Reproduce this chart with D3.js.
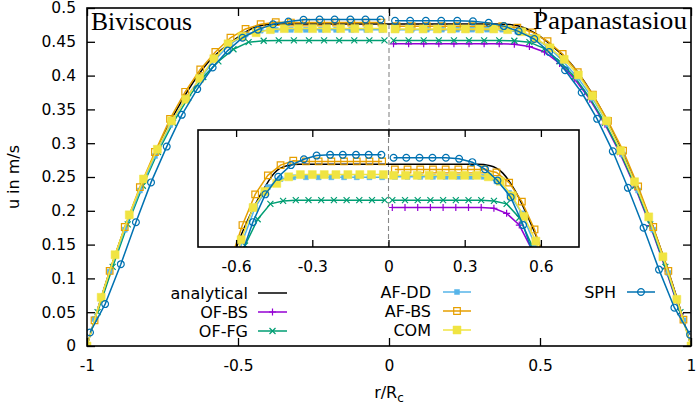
<!DOCTYPE html>
<html>
<head>
<meta charset="utf-8">
<script src="https://cdn.jsdelivr.net/npm/d3@7"></script>
<style>
  body { margin: 0; background: #fff; }
</style>
</head>
<body>
<div id="chart"></div>
<script>
// ---- data: [r/Rc, u in m/s] ----
const analytical = [
  [-1.0, 0], [-0.95, 0.076], [-0.9, 0.143], [-0.85, 0.204], [-0.8, 0.258], [-0.75, 0.308],
  [-0.7, 0.352], [-0.65, 0.389], [-0.6, 0.419], [-0.55, 0.44], [-0.5, 0.457], [-0.45, 0.4705],
  [-0.4, 0.4755], [-0.35, 0.4765], [0.35, 0.4765], [0.4, 0.4755], [0.45, 0.4705], [0.5, 0.458],
  [0.55, 0.44], [0.6, 0.419], [0.65, 0.389], [0.7, 0.352], [0.75, 0.308], [0.8, 0.258],
  [0.85, 0.204], [0.9, 0.143], [0.95, 0.076], [1.0, 0]
];

const ofbsRight = [
  [0.015, 0.447], [0.065, 0.447], [0.115, 0.447], [0.165, 0.447], [0.215, 0.447],
  [0.265, 0.447], [0.315, 0.447], [0.365, 0.447], [0.415, 0.4465], [0.465, 0.443],
  [0.515, 0.435], [0.565, 0.418], [0.615, 0.395], [0.665, 0.365], [0.715, 0.328],
  [0.765, 0.285], [0.815, 0.235], [0.865, 0.178], [0.915, 0.115], [0.965, 0.048]
];

const offgLeft = [
  [-0.965, 0.05], [-0.915, 0.117], [-0.865, 0.18], [-0.815, 0.237], [-0.765, 0.287],
  [-0.715, 0.33], [-0.665, 0.367], [-0.615, 0.398], [-0.565, 0.421], [-0.515, 0.439],
  [-0.465, 0.4495], [-0.415, 0.4515], [-0.365, 0.452], [-0.315, 0.452], [-0.265, 0.452],
  [-0.215, 0.452], [-0.165, 0.452], [-0.115, 0.452], [-0.065, 0.452], [-0.015, 0.452]
];
const offgRight = [
  [0.015, 0.452], [0.065, 0.452], [0.115, 0.452], [0.165, 0.452], [0.215, 0.452],
  [0.265, 0.452], [0.315, 0.452], [0.365, 0.452], [0.415, 0.4515], [0.465, 0.4495],
  [0.515, 0.44], [0.565, 0.421], [0.615, 0.398], [0.665, 0.367], [0.715, 0.33],
  [0.765, 0.287], [0.815, 0.237], [0.865, 0.18], [0.915, 0.117], [0.965, 0.05]
];

const afddLeft = [
  [-0.975, 0.04], [-0.925, 0.11], [-0.875, 0.172], [-0.825, 0.23], [-0.775, 0.281],
  [-0.725, 0.327], [-0.675, 0.365], [-0.625, 0.396], [-0.575, 0.424], [-0.525, 0.447],
  [-0.475, 0.461], [-0.425, 0.4665], [-0.375, 0.4677], [-0.325, 0.4677], [-0.275, 0.4677],
  [-0.225, 0.4677], [-0.175, 0.4677], [-0.125, 0.4677], [-0.075, 0.4677], [-0.025, 0.4677]
];
const afddRight = [
  [0.025, 0.468], [0.075, 0.468], [0.125, 0.468], [0.175, 0.468], [0.225, 0.468],
  [0.275, 0.468], [0.325, 0.468], [0.375, 0.468], [0.425, 0.465], [0.475, 0.457],
  [0.525, 0.443], [0.575, 0.422], [0.625, 0.397], [0.675, 0.366], [0.725, 0.328],
  [0.775, 0.283], [0.825, 0.23], [0.875, 0.172], [0.925, 0.108], [0.975, 0.038]
];

const afbsLeft = [
  [-0.975, 0.038], [-0.925, 0.111], [-0.875, 0.176], [-0.825, 0.235], [-0.775, 0.287],
  [-0.725, 0.336], [-0.675, 0.376], [-0.625, 0.409], [-0.575, 0.435], [-0.525, 0.456],
  [-0.475, 0.469], [-0.425, 0.476], [-0.375, 0.479], [-0.325, 0.4785], [-0.275, 0.4785],
  [-0.225, 0.4785], [-0.175, 0.4785], [-0.125, 0.4785], [-0.075, 0.4785], [-0.025, 0.4785]
];
const afbsRight = [
  [0.025, 0.473], [0.075, 0.473], [0.125, 0.473], [0.175, 0.473], [0.225, 0.473],
  [0.275, 0.473], [0.325, 0.473], [0.375, 0.473], [0.425, 0.471], [0.475, 0.464],
  [0.525, 0.451], [0.575, 0.432], [0.625, 0.405], [0.675, 0.372], [0.725, 0.333],
  [0.775, 0.289], [0.825, 0.236], [0.875, 0.176], [0.925, 0.111], [0.975, 0.039]
];

const comLeft = [
  [-1.0, 0], [-0.953, 0.072], [-0.907, 0.135], [-0.86, 0.194], [-0.813, 0.247],
  [-0.767, 0.291], [-0.72, 0.333], [-0.673, 0.365], [-0.627, 0.396], [-0.58, 0.425],
  [-0.533, 0.447], [-0.487, 0.458], [-0.44, 0.4635], [-0.393, 0.468], [-0.347, 0.4695],
  [-0.3, 0.4695], [-0.253, 0.4695], [-0.207, 0.4695], [-0.16, 0.4695], [-0.113, 0.4695],
  [-0.067, 0.4695], [-0.02, 0.4695]
];
const comRight = [
  [0.02, 0.469], [0.067, 0.469], [0.113, 0.469], [0.16, 0.469], [0.207, 0.469],
  [0.253, 0.469], [0.3, 0.469], [0.347, 0.469], [0.393, 0.468], [0.44, 0.465],
  [0.487, 0.455], [0.533, 0.441], [0.58, 0.424], [0.627, 0.401], [0.673, 0.37],
  [0.72, 0.333], [0.767, 0.289], [0.813, 0.243], [0.86, 0.191], [0.907, 0.132],
  [0.953, 0.069], [1.0, 0]
];

const sphLeft = [
  [-0.99, 0.02], [-0.94, 0.062], [-0.888, 0.121], [-0.838, 0.183], [-0.788, 0.242],
  [-0.736, 0.295], [-0.686, 0.342], [-0.635, 0.38], [-0.584, 0.412], [-0.534, 0.437],
  [-0.485, 0.456], [-0.434, 0.468], [-0.384, 0.476], [-0.333, 0.48], [-0.283, 0.4825],
  [-0.23, 0.483], [-0.18, 0.483], [-0.128, 0.483], [-0.078, 0.483], [-0.028, 0.483]
];
const sphRight = [
  [0.02, 0.481], [0.07, 0.481], [0.122, 0.481], [0.173, 0.481], [0.226, 0.481],
  [0.278, 0.4803], [0.33, 0.478], [0.38, 0.4732], [0.429, 0.4655], [0.481, 0.4541],
  [0.53, 0.435], [0.583, 0.408], [0.638, 0.375], [0.689, 0.336], [0.741, 0.288],
  [0.791, 0.234], [0.843, 0.175], [0.894, 0.113], [0.945, 0.0567], [0.997, 0.0167]
];

const xTicks = [-1, -0.5, 0, 0.5, 1];
const yTicks = [0, 0.05, 0.1, 0.15, 0.2, 0.25, 0.3, 0.35, 0.4, 0.45, 0.5];
const insetTicks = [-0.6, -0.3, 0, 0.3, 0.6];

// ---- series definitions (gnuplot draw order) ----
const series = [
  { name: "analytical", color: "#000000", marker: null, parts: [analytical] },
  { name: "OF-BS", color: "#9400d3", marker: "plus", parts: [ofbsRight] },
  { name: "OF-FG", color: "#009e73", marker: "cross", parts: [offgLeft, offgRight] },
  { name: "AF-DD", color: "#56b4e9", marker: "smallSquare", parts: [afddLeft, afddRight] },
  { name: "AF-BS", color: "#e69f00", marker: "openSquare", parts: [afbsLeft, afbsRight] },
  { name: "COM", color: "#f0e442", marker: "filledSquare", parts: [comLeft, comRight] },
  { name: "SPH", color: "#0072b2", marker: "openCircle", parts: [sphLeft, sphRight] }
];

const width = 699, height = 406;
const sans = "'DejaVu Sans', sans-serif";

const svg = d3.select("#chart").append("svg")
  .attr("width", width)
  .attr("height", height)
  .style("background", "#fff");

const main = { left: 87, right: 691, top: 8, bottom: 346 };
const inset = { left: 198, right: 579, top: 130, bottom: 247 };

const x = d3.scaleLinear().domain([-1, 1]).range([main.left, main.right]);
const y = d3.scaleLinear().domain([0, 0.5]).range([main.bottom, main.top]);
const xi = d3.scaleLinear().domain([-0.75, 0.75]).range([inset.left, inset.right]);
const yi = d3.scaleLinear().domain([0.42, 0.5]).range([inset.bottom, inset.top]);

function markerPath(type) {
  switch (type) {
    case "plus": return "M-3.5,0h7M0,-3.5v7";
    case "cross": return "M-3,-3L3,3M-3,3L3,-3";
    case "smallSquare": return "M-2.5,-2.5h5v5h-5Z";
    case "openSquare": return "M-3.3,-3.3h6.6v6.6h-6.6Z";
    case "filledSquare": return "M-4,-4h8v8h-8Z";
    case "openCircle": return d3.symbol().type(d3.symbolCircle).size(Math.PI * 3.4 * 3.4)();
  }
  return "";
}

function styleMarker(sel, s) {
  const filled = s.marker === "smallSquare" || s.marker === "filledSquare";
  sel.attr("d", markerPath(s.marker))
    .attr("fill", filled ? s.color : "none")
    .attr("stroke", s.color)
    .attr("stroke-width", filled ? 0.5 : 1.2);
}

function plotSeries(g, xs, ys) {
  series.forEach((s) => {
    const line = d3.line()
      .x((d) => xs(d[0]))
      .y((d) => ys(d[1]))
      .curve(s.marker ? d3.curveLinear : d3.curveMonotoneX);
    s.parts.forEach((data) => {
      g.append("path")
        .datum(data)
        .attr("fill", "none")
        .attr("stroke", s.color)
        .attr("stroke-width", 1.5)
        .attr("d", line);
      if (s.marker) {
        g.append("g").selectAll("path")
          .data(data)
          .join("path")
          .attr("transform", (d) => `translate(${xs(d[0])},${ys(d[1])})`)
          .call(styleMarker, s);
      }
    });
  });
}

function styleAxis(g) {
  g.select(".domain").remove();
  g.attr("font-size", 15.5).attr("font-family", sans);
  g.selectAll(".tick line").attr("stroke", "#000").attr("stroke-width", 1.3);
  g.selectAll(".tick text").attr("fill", "#000");
}

const fmt = (d) => String(d);

// ---- main plot ----
svg.append("defs").call((defs) => {
  defs.append("clipPath").attr("id", "clip-main")
    .append("rect")
    .attr("x", main.left).attr("y", main.top)
    .attr("width", main.right - main.left).attr("height", main.bottom - main.top);
  defs.append("clipPath").attr("id", "clip-inset")
    .append("rect")
    .attr("x", inset.left).attr("y", inset.top)
    .attr("width", inset.right - inset.left).attr("height", inset.bottom - inset.top);
});

// dashed centre line (only visible above the inset)
svg.append("line")
  .attr("x1", x(0)).attr("x2", x(0))
  .attr("y1", main.top).attr("y2", inset.top)
  .attr("stroke", "#888")
  .attr("stroke-width", 1.1)
  .attr("stroke-dasharray", "5,3");

const mainG = svg.append("g").attr("clip-path", "url(#clip-main)");
plotSeries(mainG, x, y);

svg.append("g")
  .attr("transform", `translate(${main.left},0)`)
  .call(d3.axisLeft(y).tickValues(yTicks).tickSize(-8).tickPadding(11).tickFormat(fmt))
  .call(styleAxis);

svg.append("g")
  .attr("transform", `translate(${main.right},0)`)
  .call(d3.axisRight(y).tickValues(yTicks).tickSize(-8).tickFormat(""))
  .call(styleAxis);

svg.append("g")
  .attr("transform", `translate(0,${main.bottom})`)
  .call(d3.axisBottom(x).tickValues(xTicks).tickSize(-8).tickPadding(14).tickFormat(fmt))
  .call(styleAxis);

svg.append("g")
  .attr("transform", `translate(0,${main.top})`)
  .call(d3.axisTop(x).tickValues(xTicks).tickSize(-8).tickFormat(""))
  .call(styleAxis);

svg.append("rect")
  .attr("x", main.left).attr("y", main.top)
  .attr("width", main.right - main.left).attr("height", main.bottom - main.top)
  .attr("fill", "none")
  .attr("stroke", "#000")
  .attr("stroke-width", 1.6);

// ---- inset ----
svg.append("rect")
  .attr("x", inset.left).attr("y", inset.top)
  .attr("width", inset.right - inset.left).attr("height", inset.bottom - inset.top)
  .attr("fill", "#fff");

svg.append("line")
  .attr("x1", xi(0)).attr("x2", xi(0))
  .attr("y1", inset.top).attr("y2", inset.bottom)
  .attr("stroke", "#888")
  .attr("stroke-width", 1.1)
  .attr("stroke-dasharray", "5,3");

const insetG = svg.append("g").attr("clip-path", "url(#clip-inset)");
plotSeries(insetG, xi, yi);

svg.append("g")
  .attr("transform", `translate(0,${inset.bottom})`)
  .call(d3.axisBottom(xi).tickValues(insetTicks).tickSize(-7).tickPadding(14).tickFormat(fmt))
  .call(styleAxis);

svg.append("g")
  .attr("transform", `translate(0,${inset.top})`)
  .call(d3.axisTop(xi).tickValues(insetTicks).tickSize(-7).tickFormat(""))
  .call(styleAxis);

svg.append("rect")
  .attr("x", inset.left).attr("y", inset.top)
  .attr("width", inset.right - inset.left).attr("height", inset.bottom - inset.top)
  .attr("fill", "none")
  .attr("stroke", "#000")
  .attr("stroke-width", 1.6);

// ---- legend ----
const legendCols = [
  { textEnd: 248, x1: 258, x2: 287, rows: [293, 312, 331], names: ["analytical", "OF-BS", "OF-FG"] },
  { textEnd: 431, x1: 443, x2: 471, rows: [292, 311, 330], names: ["AF-DD", "AF-BS", "COM"] },
  { textEnd: 616, x1: 627, x2: 655, rows: [292], names: ["SPH"] }
];

const legend = svg.append("g").attr("font-family", sans).attr("font-size", 16);
legendCols.forEach((col) => {
  col.names.forEach((name, i) => {
    const s = series.find((d) => d.name === name);
    const cy = col.rows[i];
    legend.append("text")
      .attr("x", col.textEnd)
      .attr("y", cy)
      .attr("dy", "0.36em")
      .attr("text-anchor", "end")
      .attr("fill", "#000")
      .text(name);
    legend.append("line")
      .attr("x1", col.x1).attr("x2", col.x2)
      .attr("y1", cy).attr("y2", cy)
      .attr("stroke", s.color)
      .attr("stroke-width", 1.5);
    if (s.marker) {
      legend.append("path")
        .attr("transform", `translate(${(col.x1 + col.x2) / 2},${cy})`)
        .call(styleMarker, s);
    }
  });
});

// ---- labels ----
svg.append("text")
  .attr("x", 91).attr("y", 30)
  .attr("font-family", "'Liberation Serif', serif")
  .attr("font-size", 25)
  .attr("textLength", 101)
  .attr("lengthAdjust", "spacingAndGlyphs")
  .text("Biviscous");

svg.append("text")
  .attr("x", 533).attr("y", 29)
  .attr("font-family", "'Liberation Serif', serif")
  .attr("font-size", 25)
  .attr("textLength", 154)
  .attr("lengthAdjust", "spacingAndGlyphs")
  .text("Papanastasiou");

svg.append("text")
  .attr("transform", `translate(19,${(main.top + main.bottom) / 2}) rotate(-90)`)
  .attr("text-anchor", "middle")
  .attr("font-family", sans)
  .attr("font-size", 16)
  .text("u in m/s");

const xLabel = svg.append("text")
  .attr("x", (main.left + main.right) / 2)
  .attr("y", 398)
  .attr("text-anchor", "middle")
  .attr("font-family", sans)
  .attr("font-size", 16);
xLabel.append("tspan").text("r/R");
xLabel.append("tspan").attr("dy", 4).attr("font-size", 12).text("c");
</script>
</body>
</html>
